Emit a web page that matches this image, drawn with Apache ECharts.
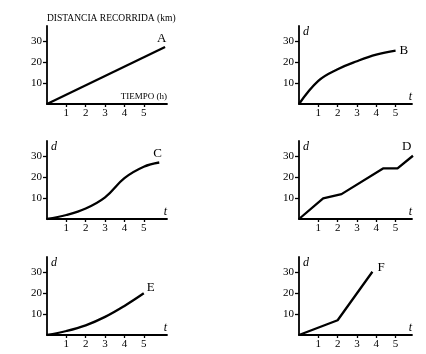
<!DOCTYPE html>
<html>
<head>
<meta charset="utf-8">
<script src="https://cdn.jsdelivr.net/npm/echarts@6/dist/echarts.min.js"></script>
<style>
  html, body { margin: 0; padding: 0; background: #fff; }
  #chart { width: 426px; height: 354px; }
</style>
</head>
<body>
<div id="chart"></div>
<script>
// datos (tiempo en h, distancia en km)
const tiempoA = [0, 6.1];
const distA = [0, 27];
const tiempoB = [0, 1, 2, 3, 4, 5];
const distB = [0, 11, 16.5, 20.3, 23.4, 25.3];
const tiempoC = [0, 1, 2, 3, 4, 5, 5.8];
const distC = [0, 1.9, 5, 10.3, 19.4, 24.8, 26.8];
const tiempoD = [0, 1.25, 2.2, 4.35, 5.1, 5.9];
const distD = [0, 9.8, 11.8, 24, 24, 30];
const tiempoE = [0, 1, 2, 3, 4, 5];
const distE = [0, 1.9, 4.6, 8.6, 13.8, 19.8];
const tiempoF = [0, 2, 3.8];
const distF = [0, 7, 30];

const letras = ['A', 'B', 'C', 'D', 'E', 'F'];
const xTicks = [1, 2, 3, 4, 5];
const yTicks = [10, 20, 30];

const curvas = [
  { t: tiempoA, d: distA, smooth: false, offset: [-12, -9] },
  { t: tiempoB, d: distB, smooth: true, offset: [0, 0] },
  { t: tiempoC, d: distC, smooth: true, offset: [-10, -9] },
  { t: tiempoD, d: distD, smooth: false, offset: [-15, -9] },
  { t: tiempoE, d: distE, smooth: true, offset: [-1, -6] },
  { t: tiempoF, d: distF, smooth: false, offset: [1, -4] }
];

const fuente = 'Liberation Serif';
const tops = [26, 141, 257];

const grids = [];
const xAxes = [];
const yAxes = [];
const series = [];

curvas.forEach((c, i) => {
  const col = i % 2;
  const row = Math.floor(i / 2);
  grids.push({
    left: col ? 299 : 47,
    width: col ? 113 : 120,
    top: tops[row],
    height: 78
  });
  xAxes.push({
    type: 'value',
    gridIndex: i,
    min: 0,
    max: col ? 5.85 : 6.2,
    name: i === 0 ? 'TIEMPO (h)' : 't',
    nameLocation: 'end',
    nameGap: 0,
    nameTextStyle: i === 0
      ? { fontFamily: fuente, fontSize: 9, color: '#000', align: 'right', verticalAlign: 'bottom', padding: [0, 0, 3, 0] }
      : { fontFamily: fuente, fontSize: 12, fontStyle: 'italic', color: '#000', align: 'right', verticalAlign: 'bottom', padding: [0, 0, 1, 0] },
    axisLine: { lineStyle: { color: '#000', width: 1.8 } },
    axisTick: { customValues: xTicks, length: 3, lineStyle: { color: '#000', width: 1.3 } },
    axisLabel: { customValues: xTicks, fontFamily: fuente, fontSize: 11, color: '#000', margin: 4 },
    splitLine: { show: false }
  });
  yAxes.push({
    type: 'value',
    gridIndex: i,
    min: 0,
    max: 37,
    name: i === 0 ? 'DISTANCIA RECORRIDA (km)' : 'd',
    nameLocation: 'end',
    nameGap: i === 0 ? 3 : 0,
    nameTextStyle: i === 0
      ? { fontFamily: fuente, fontSize: 9.5, color: '#000', align: 'left', verticalAlign: 'bottom' }
      : { fontFamily: fuente, fontSize: 12, fontStyle: 'italic', color: '#000', align: 'left', verticalAlign: 'top', padding: [0, 0, 0, 4] },
    axisLine: { show: true, lineStyle: { color: '#000', width: 1.8 } },
    axisTick: { show: true, customValues: yTicks, length: 4, lineStyle: { color: '#000', width: 1.3 } },
    axisLabel: { customValues: yTicks, fontFamily: fuente, fontSize: 11, color: '#000', margin: 5 },
    splitLine: { show: false }
  });
  series.push({
    type: 'line',
    xAxisIndex: i,
    yAxisIndex: i,
    data: c.t.map((t, k) => [t, c.d[k]]),
    smooth: c.smooth ? 0.4 : false,
    showSymbol: false,
    lineStyle: { color: '#000', width: 2.3 },
    endLabel: {
      show: true,
      formatter: letras[i],
      fontFamily: fuente,
      fontSize: 13,
      color: '#000',
      distance: 4,
      offset: c.offset
    },
    animation: false
  });
});

const chart = echarts.init(document.getElementById('chart'));
chart.setOption({
  backgroundColor: '#fff',
  animation: false,
  grid: grids,
  xAxis: xAxes,
  yAxis: yAxes,
  series: series
});
</script>
</body>
</html>
